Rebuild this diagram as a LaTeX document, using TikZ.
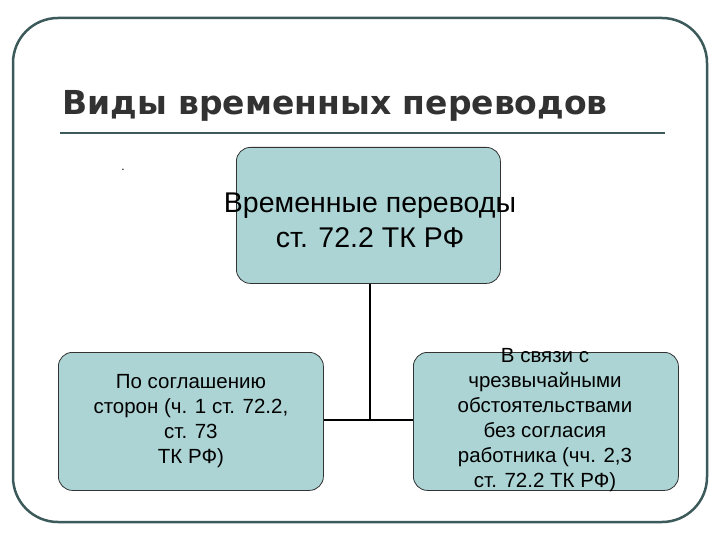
\documentclass[tikz,border=0pt]{standalone}
\usepackage{fontspec}
\setmainfont{Liberation Sans}
\newfontfamily\titlefont{DejaVu Sans}
\definecolor{frame}{RGB}{60,90,90}
\definecolor{boxfill}{RGB}{172,212,212}
\definecolor{titlec}{RGB}{50,50,50}
\begin{document}
\begin{tikzpicture}[x=1pt,y=-1pt,
  box/.style={draw=black!80,line width=0.8pt,fill=boxfill,rounded corners=14pt,align=center,inner sep=0pt},
  conn/.style={draw=black,line width=1.2pt}]
\useasboundingbox (0,0) rectangle (720,540);
\draw[frame,line width=2.5pt,rounded corners=45pt] (13,18) rectangle (707,522);
\node[anchor=west,font=\titlefont\bfseries\fontsize{33}{36}\selectfont,text=titlec,inner sep=0pt] (title) at (62,106) {Виды временных переводов};
\draw[frame,line width=2pt] (60,133) -- (665,133);
\node[font=\fontsize{12}{12}\selectfont] (dot) at (123,170) {.};
\node[box,minimum width=264pt,minimum height=136pt,anchor=north west] (top) at (236,147) {};
\node[font=\fontsize{28.5}{35}\selectfont,align=center] (toptext) at (370,220) {Временные переводы\\ст. 72.2 ТК РФ};
\node[box,minimum width=265pt,minimum height=138pt,anchor=north west,font=\fontsize{20.5}{25}\selectfont] (left) at (58,352) {По соглашению\\сторон (ч. 1 ст. 72.2,\\ст. 73\\ТК РФ)};
\node[box,minimum width=265pt,minimum height=138pt,anchor=north west,font=\fontsize{20.5}{25}\selectfont] (right) at (413,352) {};
\node[font=\fontsize{20.5}{25}\selectfont,align=center] (righttext) at (545,420) {В связи с\\чрезвычайными\\обстоятельствами\\без согласия\\работника (чч. 2,3\\ст. 72.2 ТК РФ)};
\coordinate (j) at (370,420);
\draw[conn] (top.south -| j) -- (j);
\draw[conn] (left.east |- j) -- (right.west |- j);
\end{tikzpicture}
\end{document}
